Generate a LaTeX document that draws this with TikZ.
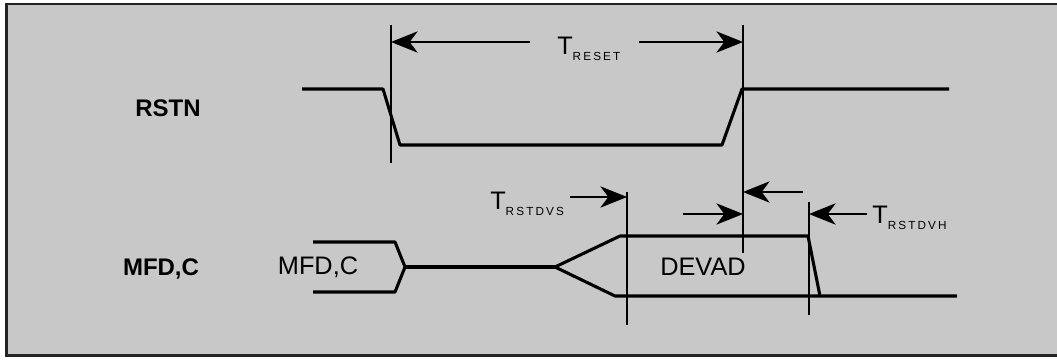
\documentclass[tikz,border=0pt]{standalone}
\usepackage{fontspec}
\setmainfont{Liberation Sans}
\usetikzlibrary{arrows.meta}
\definecolor{panel}{RGB}{200,200,200}
\definecolor{rim}{RGB}{35,35,35}
\newcommand{\tsub}[1]{\raisebox{-4.5pt}{\fontsize{8.8}{8.8}\selectfont\addfontfeatures{LetterSpace=18}#1}}
\tikzset{
  wave/.style={line width=2.3pt, line join=round},
  marker/.style={line width=1.1pt},
  dim/.style={line width=1pt, -{Stealth[length=20pt,width=16pt,inset=6pt]}},
  sig/.style={font=\fontsize{18}{18}\selectfont\bfseries, inner sep=0pt},
  bus/.style={font=\fontsize{19}{19}\selectfont, inner sep=0pt},
  tlab/.style={font=\fontsize{19}{19}\selectfont, inner sep=0pt, anchor=base west}
}
\begin{document}
\begin{tikzpicture}[x=0.75pt, y=-0.75pt]
  \useasboundingbox (0,0) rectangle (1057,360);
  % Panel
  \fill[white] (0,0) rectangle (1057,360);
  \fill[panel] (6,3) rectangle (1057,356);
  \draw[rim, line width=2pt] (1060,4) -- (6.5,4) -- (6.5,355.5) -- (1060,355.5);

  % Signal names
  \node[sig] (rstn) at (168,108) {RSTN};
  \node[sig] (mfdc) at (161,269) {MFD,C};

  % Timing markers
  \foreach \name/\x/\top/\bot in {mfall/391/25/163, mrise/743/25/253, mdvs/627/192/325, mdvh/809/202/315} {
    \draw[marker] (\x,\top) coordinate (\name) -- (\x,\bot);
  }

  % RSTN waveform
  \draw[wave] (302,89) -- (383,89) -- (400,145) -- (722,145) -- (742,89) -- (949,89);

  % MFD,C bus
  \draw[wave] (313,242) -- (395,242) -- (405,267) -- (395,292) -- (313,292);
  \draw[wave] (405,267) -- (555,267);
  \draw[wave] (957,296) -- (615,296) -- (555,267) -- (620,236) -- (808,236) -- (820,296);
  \node[bus] (busin) at (318,267) {MFD,C};
  \node[bus] (devad) at (703,267) {DEVAD};

  % Reset width
  \node[tlab] (treset) at (557,55) {T\tsub{RESET}};
  \coordinate (resetL) at (530,42);
  \coordinate (resetR) at (639,42);
  \draw[dim] (resetL) -- (mfall |- resetL);
  \draw[dim] (resetR) -- (mrise |- resetR);

  % Setup and hold
  \node[tlab] (tdvs) at (490,209) {T\tsub{RSTDVS}};
  \node[tlab] (tdvh) at (872,223) {T\tsub{RSTDVH}};
  \coordinate (dvsT) at (570,197);
  \coordinate (setupT) at (683,214);
  \coordinate (holdT) at (803,192);
  \coordinate (dvhT) at (867,214);
  \draw[dim] (dvsT) -- (mdvs |- dvsT);
  \draw[dim] (setupT) -- (mrise |- setupT);
  \draw[dim] (holdT) -- (mrise |- holdT);
  \draw[dim] (dvhT) -- (mdvh |- dvhT);
\end{tikzpicture}
\end{document}
